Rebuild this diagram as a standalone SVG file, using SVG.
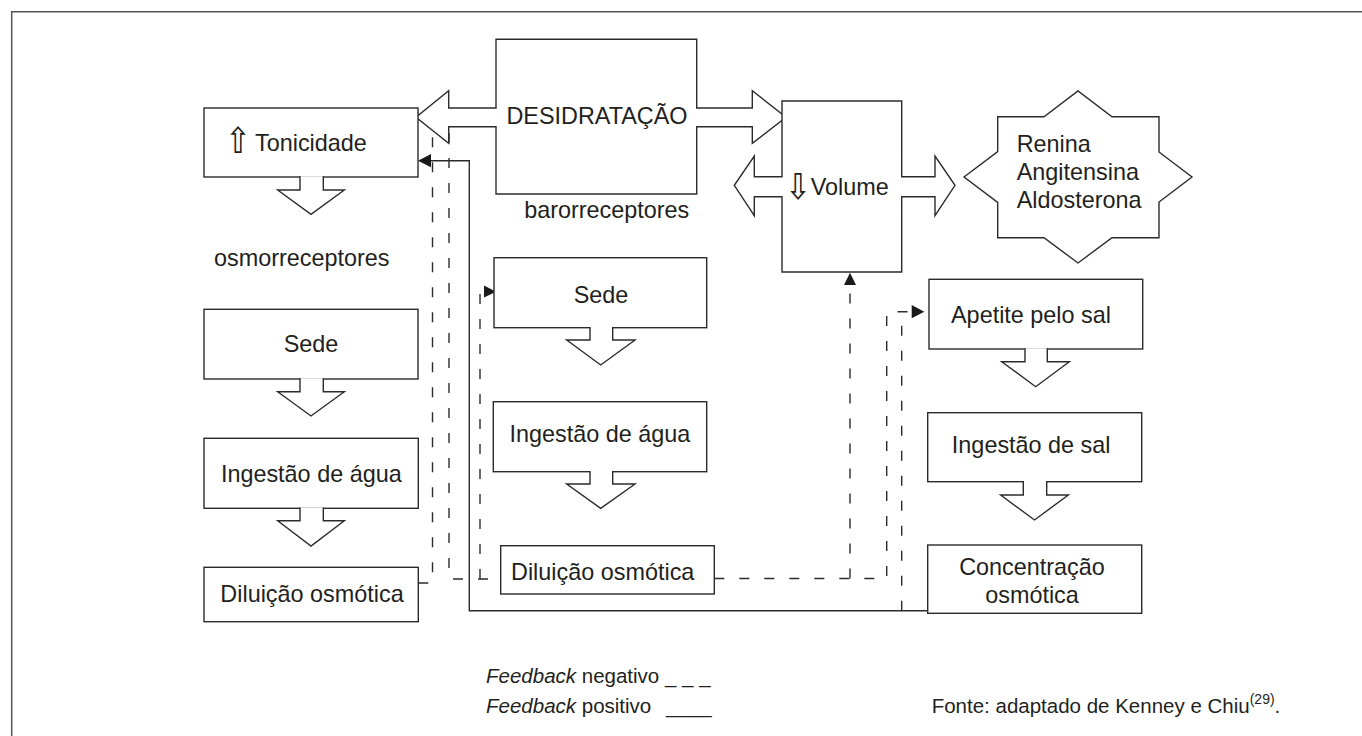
<svg xmlns="http://www.w3.org/2000/svg" width="1362" height="736" viewBox="0 0 1362 736">
<style>
.box{fill:#fff;stroke:#2b2b2b;stroke-width:1.4}
.arr{fill:#fff;stroke:#2b2b2b;stroke-width:1.4;stroke-linejoin:miter}
.neg{fill:none;stroke:#2b2b2b;stroke-width:1.4;stroke-dasharray:10 15}
.pos{fill:none;stroke:#2b2b2b;stroke-width:1.4}
.tip{fill:#1a1a1a}
text{font-family:"Liberation Sans",Arial,sans-serif;font-size:23.4px;fill:#231f20}
.sym{font-family:"DejaVu Sans",sans-serif;font-size:24px}
.m{text-anchor:middle}
.sm{font-size:20.5px}
</style>
<rect width="1362" height="736" fill="#fff"/>
<polyline points="11.7,736 11.7,11.7 1362,11.7" fill="none" stroke="#555" stroke-width="1.5"/>

<g id="connectors">
  <path class="pos" d="M927.7,610.7 H469.3 V160.7 H430"/>
  <polygon class="tip" points="418,160.7 431,154 431,167.3"/>
  <path class="neg" d="M418.3,583 H432.5 V133"/>
  <path class="neg" d="M449,133 V579 H500.7"/>
  <path class="neg" d="M480,579 V291.7 H485"/>
  <polygon class="tip" points="496,291.7 484,285.5 484,297.5"/>
  <path class="neg" d="M714.3,578.5 H886.7 V311.7 H912"/>
  <polygon class="tip" points="924.3,311.7 911.7,305 911.7,318.3"/>
  <path class="neg" d="M850,578.5 V284"/>
  <polygon class="tip" points="850,272.7 844,285 856,285"/>
  <path class="neg" d="M901.7,610.7 V311.7"/>
</g>

<g id="desidratacao">
  <path class="arr" d="M496,39.3 H696.7 V108 H752.3 V90.7 L786,117.3 L752.3,143.3 V126.7 H696.7 V194 H496 V126.7 H448.7 V143.3 L416,117.3 L448.7,90.7 V108 H496 Z"/>
  <text class="m" x="597" y="124">DESIDRATAÇÃO</text>
</g>
<g id="barorreceptores"><text class="m" x="606.7" y="218">barorreceptores</text></g>

<g id="volume">
  <path class="arr" d="M782,101 H901.7 V176.7 H935 V156 L955,185.3 L935,215.7 V196.7 H901.7 V272 H782 V196.7 H754.3 V215.7 L734.3,185.3 L754.3,156 V176.7 H782 Z"/>
  <text class="sym" transform="translate(785,198.5) scale(1.3,1.5)">⇩</text>
  <text x="810.7" y="195">Volume</text>
</g>

<g id="raa">
  <polygon class="box" points="964,177 997.7,151.6 997.7,116.7 1044,116.7 1078,91 1112,116.7 1159,116.7 1159,152 1192,177 1159,202 1159,237.7 1112,237.7 1078,263 1044,237.7 997.7,237.7 997.7,202.4"/>
  <text x="1016.7" y="151.7">Renina</text>
  <text x="1016.7" y="180">Angitensina</text>
  <text x="1016.7" y="208.3">Aldosterona</text>
</g>

<g id="tonicidade">
  <rect class="box" x="204" y="108" width="214" height="69"/>
  <text class="sym" transform="translate(225,152.7) scale(1.3,1.5)">⇧</text>
  <text x="255" y="151">Tonicidade</text>
  <path class="arr" d="M300,176.2 V190 H277.7 L311,214.3 L344.3,190 H323.3 V176.2"/>
</g>
<g id="osmorreceptores"><text x="214" y="266">osmorreceptores</text></g>

<g id="sede-esq">
  <rect class="box" x="204" y="309.3" width="214" height="69.7"/>
  <text class="m" x="311" y="352">Sede</text>
  <path class="arr" d="M300,378.2 V391.7 H277.7 L311,416 L344.3,391.7 H323.3 V378.2"/>
</g>
<g id="ingestao-agua-esq">
  <rect class="box" x="204" y="438.3" width="214.3" height="70"/>
  <text class="m" x="311.3" y="481.7">Ingestão de água</text>
  <path class="arr" d="M300,507.5 V520.7 H277.7 L311,546 L344.3,520.7 H323.3 V507.5"/>
</g>
<g id="diluicao-esq">
  <rect class="box" x="204" y="567.3" width="214.3" height="54.4"/>
  <text class="m" x="312" y="601.7">Diluição osmótica</text>
</g>

<g id="sede-meio">
  <rect class="box" x="494" y="257.7" width="212.7" height="70"/>
  <text class="m" x="601" y="303.3">Sede</text>
  <path class="arr" d="M590,326.9 V340 H566.7 L600.7,365 L635,340 H612.7 V326.9"/>
</g>
<g id="ingestao-agua-meio">
  <rect class="box" x="493.3" y="401.7" width="213.4" height="70"/>
  <text class="m" x="600" y="441.7">Ingestão de água</text>
  <path class="arr" d="M590,470.9 V484 H566.7 L600.7,508.3 L635,484 H612.7 V470.9"/>
</g>
<g id="diluicao-meio">
  <rect class="box" x="500.7" y="545.7" width="213.6" height="48.3"/>
  <text class="m" x="602.7" y="580">Diluição osmótica</text>
</g>

<g id="apetite">
  <rect class="box" x="929" y="279.3" width="213.7" height="69.7"/>
  <text class="m" x="1031" y="323.3">Apetite pelo sal</text>
  <path class="arr" d="M1025,348.2 V361.7 H1001.7 L1035.7,386.7 L1069.3,361.7 H1047.3 V348.2"/>
</g>
<g id="ingestao-sal">
  <rect class="box" x="927.7" y="412.7" width="214" height="69"/>
  <text class="m" x="1031.2" y="453.3">Ingestão de sal</text>
  <path class="arr" d="M1023.3,480.9 V495 H1000.7 L1034.5,520 L1068.3,495 H1046.7 V480.9"/>
</g>
<g id="concentracao">
  <rect class="box" x="927.7" y="545" width="214" height="68.3"/>
  <text class="m" x="1032" y="575">Concentração</text>
  <text class="m" x="1032" y="603.3">osmótica</text>
</g>

<g id="legenda">
  <text class="sm" x="486" y="683.3"><tspan font-style="italic">Feedback</tspan> negativo <tspan x="665">_ _ _</tspan></text>
  <text class="sm" x="486" y="713.3"><tspan font-style="italic">Feedback</tspan> positivo <tspan x="666">____</tspan></text>
</g>
<g id="fonte">
  <text class="sm" x="931.7" y="712.7">Fonte: adaptado de Kenney e Chiu<tspan font-size="14px" dy="-9">(29)</tspan><tspan dy="9">.</tspan></text>
</g>
</svg>
